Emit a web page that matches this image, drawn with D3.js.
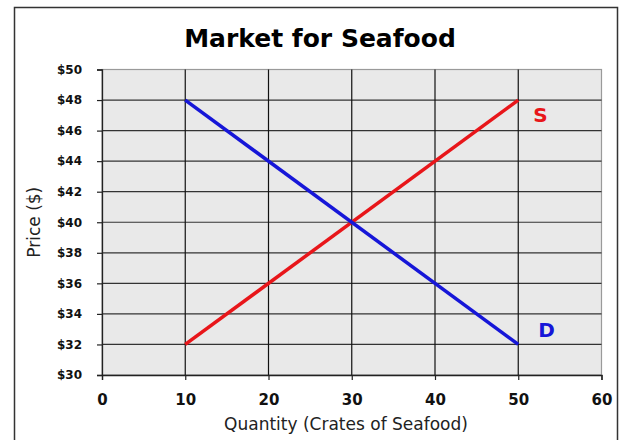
<!DOCTYPE html>
<html>
<head>
<meta charset="utf-8">
<script src="https://cdn.jsdelivr.net/npm/d3@7"></script>
<style>
  body { margin: 0; background: #fff; }
  svg { display: block; font-family: "DejaVu Sans", Verdana, sans-serif; }
</style>
</head>
<body>
<svg id="chart" width="621" height="440"></svg>
<script>
// chart data
const quantityTicks = [0, 10, 20, 30, 40, 50, 60];
const priceTicks = [30, 32, 34, 36, 38, 40, 42, 44, 46, 48, 50];
const supplyQty = [10, 50];
const supplyPrice = [32, 48];
const demandQty = [10, 50];
const demandPrice = [48, 32];
const curveNames = ["S", "D"];

const svg = d3.select("#chart");

const x = d3.scaleLinear().domain([0, 60]).range([102, 601.5]);
const y = d3.scaleLinear().domain([30, 50]).range([375, 69.5]);

// outer frame
svg.append("path")
  .attr("d", "M14.5,460V7.5H617.5V460")
  .attr("fill", "none")
  .attr("stroke", "#333")
  .attr("stroke-width", 1.5);

// plot background
svg.append("rect")
  .attr("x", x(0)).attr("y", y(50))
  .attr("width", x(60) - x(0)).attr("height", y(30) - y(50))
  .attr("fill", "#e9e9e9")
  .attr("stroke", "#9a9a9a")
  .attr("stroke-width", 1.2);

// gridlines
svg.append("g")
  .selectAll("line")
  .data(priceTicks.filter(d => d > 30 && d < 50))
  .join("line")
  .attr("x1", x(0)).attr("x2", x(60))
  .attr("y1", d => y(d)).attr("y2", d => y(d))
  .attr("stroke", "#333").attr("stroke-width", 1.2);

svg.append("g")
  .selectAll("line")
  .data(quantityTicks.filter(d => d > 0 && d < 60))
  .join("line")
  .attr("x1", d => x(d)).attr("x2", d => x(d))
  .attr("y1", y(50)).attr("y2", y(30))
  .attr("stroke", "#111").attr("stroke-width", 1.2);

// axes
const yAxis = svg.append("g")
  .attr("transform", `translate(${x(0)},0)`)
  .call(d3.axisLeft(y).tickValues(priceTicks).tickFormat(d => "$" + d).tickSize(5).tickPadding(15));

const xAxis = svg.append("g")
  .attr("transform", `translate(0,${y(30)})`)
  .call(d3.axisBottom(x).tickValues(quantityTicks).tickSize(5).tickPadding(14));

yAxis.select(".domain").attr("stroke", "#222").attr("stroke-width", 1.3);
xAxis.select(".domain").attr("stroke", "#222").attr("stroke-width", 1.3);
yAxis.selectAll(".tick line").attr("stroke", "#222").attr("stroke-width", 1.2);
xAxis.selectAll(".tick line").attr("stroke", "#222").attr("stroke-width", 1.2);
yAxis.selectAll("text")
  .attr("font-family", "DejaVu Sans, sans-serif")
  .attr("font-size", 12).attr("font-weight", "bold").attr("fill", "#111");
xAxis.selectAll("text")
  .attr("font-family", "DejaVu Sans, sans-serif")
  .attr("font-size", 15).attr("font-weight", "bold").attr("fill", "#111");

// curves
const line = d3.line().x(d => x(d[0])).y(d => y(d[1]));
const curves = [
  { name: curveNames[0], pts: d3.zip(supplyQty, supplyPrice), color: "#e8161a", dx: 15, dy: 22 },
  { name: curveNames[1], pts: d3.zip(demandQty, demandPrice), color: "#1616d8", dx: 20, dy: -7 }
];

svg.append("g")
  .selectAll("path")
  .data(curves)
  .join("path")
  .attr("d", d => line(d.pts))
  .attr("fill", "none")
  .attr("stroke", d => d.color)
  .attr("stroke-width", 3.5);

svg.append("g")
  .selectAll("text")
  .data(curves)
  .join("text")
  .attr("x", d => x(d.pts[1][0]) + d.dx)
  .attr("y", d => y(d.pts[1][1]) + d.dy)
  .attr("fill", d => d.color)
  .attr("font-size", 20)
  .attr("font-weight", "bold")
  .text(d => d.name);

// title and axis titles
svg.append("text")
  .attr("x", 320).attr("y", 47)
  .attr("text-anchor", "middle")
  .attr("font-size", 25).attr("font-weight", "bold")
  .text("Market for Seafood");

svg.append("text")
  .attr("x", 346).attr("y", 430)
  .attr("text-anchor", "middle")
  .attr("font-size", 17).attr("fill", "#222")
  .text("Quantity (Crates of Seafood)");

svg.append("text")
  .attr("transform", `translate(40,${(y(30) + y(50)) / 2}) rotate(-90)`)
  .attr("text-anchor", "middle")
  .attr("font-size", 17).attr("fill", "#222")
  .text("Price ($)");
</script>
</body>
</html>
